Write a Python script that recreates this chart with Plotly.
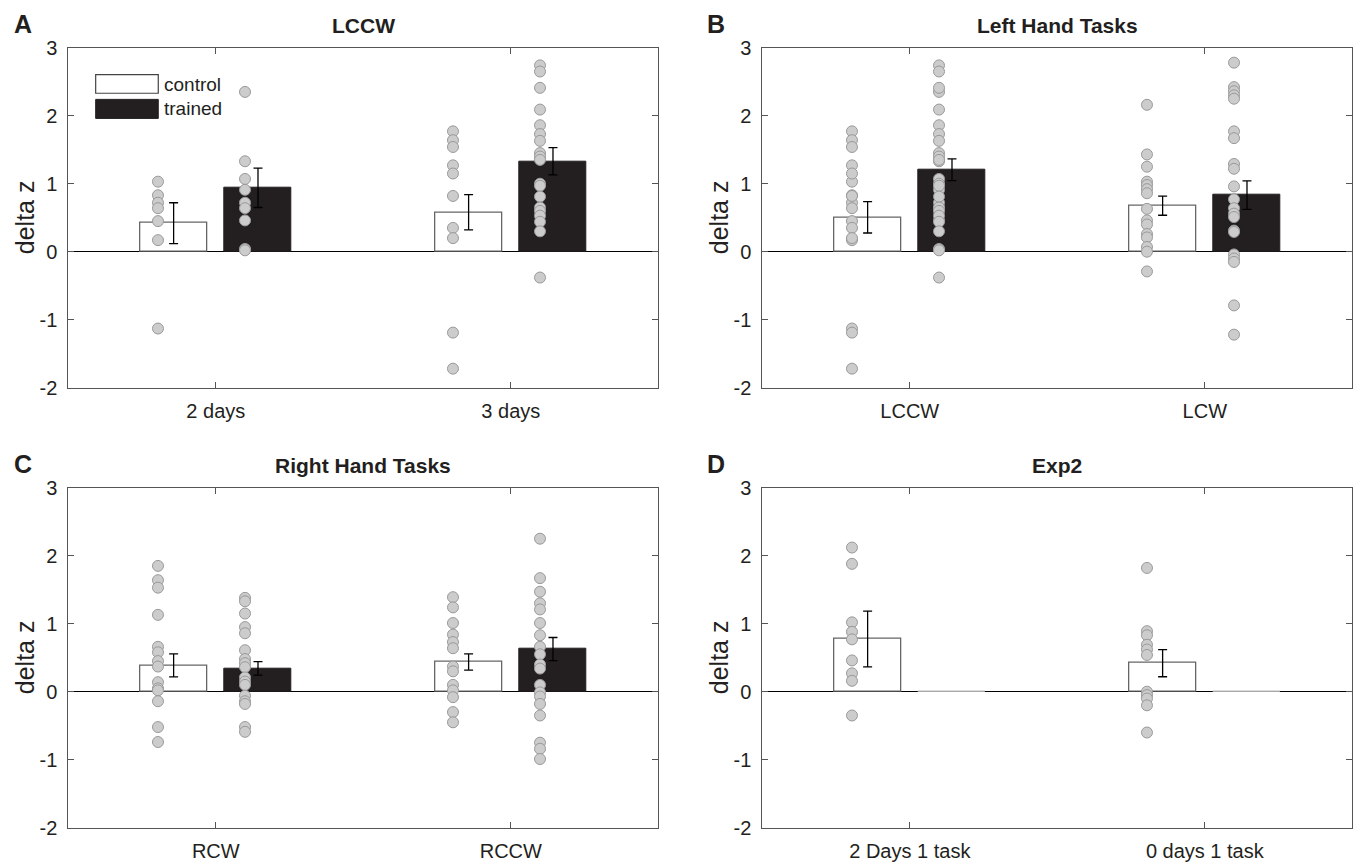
import plotly.graph_objects as go

# ---------------- data ----------------
A_cats = ["2 days", "3 days"]
A_ctrl_mean = [0.42, 0.58]
A_ctrl_sem = [0.30, 0.26]
A_trn_mean = [0.94, 1.33]
A_trn_sem = [0.29, 0.20]
A_ctrl_2d = [1.03, 0.83, 0.72, 0.64, 0.45, 0.17, -1.13]
A_trn_2d = [2.35, 1.33, 1.07, 0.91, 0.72, 0.64, 0.46, 0.04, 0.02]
A_ctrl_3d = [1.77, 1.64, 1.54, 1.27, 1.15, 0.82, 0.35, 0.20, -1.19, -1.72]
A_trn_3d = [2.74, 2.65, 2.41, 2.09, 1.86, 1.73, 1.63, 1.45, 1.40, 1.35,
            1.00, 0.97, 0.81, 0.65, 0.60, 0.53, 0.44, 0.30, -0.38]

B_cats = ["LCCW", "LCW"]
B_ctrl_mean = [0.505, 0.676]
B_ctrl_sem = [0.23, 0.14]
B_trn_mean = [1.206, 0.833]
B_trn_sem = [0.16, 0.21]
B_ctrl_lccw = A_ctrl_2d + A_ctrl_3d
B_trn_lccw = A_trn_2d + A_trn_3d
B_ctrl_lcw = [2.16, 1.43, 1.25, 1.03, 0.98, 0.92, 0.86, 0.63, 0.46, 0.40,
              0.26, 0.21, 0.07, 0.0, -0.29]
B_trn_lcw = [2.78, 2.42, 2.36, 2.30, 2.25, 1.77, 1.67, 1.29, 1.22, 0.96,
             0.77, 0.64, 0.56, 0.51, 0.31, 0.29, -0.04, -0.10, -0.15, -0.79, -1.22]

C_cats = ["RCW", "RCCW"]
C_ctrl_mean = [0.387, 0.436]
C_ctrl_sem = [0.17, 0.12]
C_trn_mean = [0.343, 0.627]
C_trn_sem = [0.10, 0.17]
C_ctrl_rcw = [1.85, 1.64, 1.53, 1.13, 0.66, 0.58, 0.45, 0.37, 0.14, 0.05,
              0.02, -0.14, -0.52, -0.74]
C_trn_rcw = [1.38, 1.33, 1.15, 0.95, 0.86, 0.61, 0.48, 0.42, 0.36, 0.21,
             0.15, 0.10, -0.06, -0.14, -0.18, -0.52, -0.59]
C_ctrl_rccw = [1.39, 1.24, 1.01, 0.84, 0.73, 0.64, 0.37, 0.30, 0.10, 0.02,
               -0.08, -0.30, -0.45]
C_trn_rccw = [2.25, 1.67, 1.47, 1.30, 1.21, 1.01, 0.83, 0.66, 0.55, 0.40,
              0.34, 0.10, -0.01, -0.07, -0.18, -0.35, -0.75, -0.84, -0.99]

D_cats = ["2 Days 1 task", "0 days 1 task"]
D_ctrl_mean = [0.775, 0.42]
D_ctrl_sem = [0.41, 0.20]
D_trn_mean = [0.0, 0.0]
D_ctrl_2d1t = [2.12, 1.88, 1.02, 0.88, 0.77, 0.46, 0.27, 0.16, -0.35]
D_ctrl_0d1t = [1.82, 0.89, 0.83, 0.69, 0.62, 0.54, 0.0, -0.05, -0.10, -0.20, -0.60]

Y_TICKS = [-2, -1, 0, 1, 2, 3]
Y_TICKTEXT = ["-2", "-1", "0", "1", "2", "3"]

panels = [
    dict(letter="A", title="LCCW", cats=A_cats,
         cm=A_ctrl_mean, cs=A_ctrl_sem, tm=A_trn_mean, ts=A_trn_sem,
         cp=[A_ctrl_2d, A_ctrl_3d], tp=[A_trn_2d, A_trn_3d], legend=True),
    dict(letter="B", title="Left Hand Tasks", cats=B_cats,
         cm=B_ctrl_mean, cs=B_ctrl_sem, tm=B_trn_mean, ts=B_trn_sem,
         cp=[B_ctrl_lccw, B_ctrl_lcw], tp=[B_trn_lccw, B_trn_lcw], legend=False),
    dict(letter="C", title="Right Hand Tasks", cats=C_cats,
         cm=C_ctrl_mean, cs=C_ctrl_sem, tm=C_trn_mean, ts=C_trn_sem,
         cp=[C_ctrl_rcw, C_ctrl_rccw], tp=[C_trn_rcw, C_trn_rccw], legend=False),
    dict(letter="D", title="Exp2", cats=D_cats,
         cm=D_ctrl_mean, cs=D_ctrl_sem, tm=D_trn_mean, ts=None,
         cp=[D_ctrl_2d1t, D_ctrl_0d1t], tp=[[], []], legend=False),
]

# ---------------- layout geometry ----------------
W, H = 1359, 862
xdoms = [[68.3 / W, 658.3 / W], [762.3 / W, 1352.3 / W]]
ydoms = [[1 - 387.7 / H, 1 - 47.7 / H], [1 - 827.7 / H, 1 - 487.7 / H]]

BAR_OFF = 0.143
BAR_W = 0.229
CTRL_DOT_OFF = -0.196
TRN_DOT_OFF = 0.099

FONT = "Liberation Sans, Arial, Helvetica, sans-serif"
TXT = "#231f20"
AXC = "#555555"
DOT_FILL = "#cccccc"
DOT_EDGE = "#9a9a9a"

fig = go.Figure()
annotations = []
shapes = []

for i, p in enumerate(panels):
    r, c = divmod(i, 2)
    xa = "x" if i == 0 else f"x{i+1}"
    ya = "y" if i == 0 else f"y{i+1}"
    pos = [1, 2]

    # control bars
    fig.add_trace(go.Bar(
        x=[v - BAR_OFF for v in pos], y=p["cm"], width=BAR_W,
        marker=dict(color="white", line=dict(color="#666666", width=1.3)),
        error_y=dict(type="data", array=p["cs"], visible=True,
                     color="black", thickness=1.3, width=4.5),
        xaxis=xa, yaxis=ya, showlegend=False))
    # trained bars
    err = dict(type="data", array=p["ts"], visible=True, color="black",
               thickness=1.3, width=4.5) if p["ts"] is not None else None
    fig.add_trace(go.Bar(
        x=[v + BAR_OFF for v in pos], y=p["tm"], width=BAR_W,
        marker=dict(color="#231f20",
                    line=dict(color="#231f20" if p["ts"] is not None else "#bbbbbb", width=1)),
        error_y=err,
        xaxis=xa, yaxis=ya, showlegend=False))

    # individual points
    for k, v in enumerate(pos):
        for pts, off in ((p["cp"][k], CTRL_DOT_OFF), (p["tp"][k], TRN_DOT_OFF)):
            if not pts:
                continue
            fig.add_trace(go.Scatter(
                x=[v + off] * len(pts), y=pts, mode="markers",
                marker=dict(size=11, color=DOT_FILL,
                            line=dict(color=DOT_EDGE, width=1)),
                xaxis=xa, yaxis=ya, showlegend=False, hoverinfo="y"))

    axx = dict(domain=xdoms[c], anchor=ya, range=[0.5, 2.5],
               tickvals=pos, ticktext=p["cats"], ticks="inside", ticklen=6,
               tickcolor=AXC, tickwidth=1, showline=True, linecolor=AXC,
               linewidth=1, mirror="ticks", showgrid=False, zeroline=False,
               tickfont=dict(family=FONT, size=20, color=TXT),
               ticklabelstandoff=5, automargin=False, fixedrange=True)
    axy = dict(domain=ydoms[r], anchor=xa, range=[-2, 3],
               tickvals=Y_TICKS, ticktext=Y_TICKTEXT, ticks="inside", ticklen=6,
               tickcolor=AXC, tickwidth=1, showline=True, linecolor=AXC,
               linewidth=1, mirror="ticks", showgrid=False,
               zeroline=True, zerolinecolor="black", zerolinewidth=1,
               tickfont=dict(family=FONT, size=20, color=TXT),
               ticklabelstandoff=6,
               automargin=False, fixedrange=True)
    fig.layout["xaxis" if i == 0 else f"xaxis{i+1}"] = axx
    fig.layout["yaxis" if i == 0 else f"yaxis{i+1}"] = axy

    xref_dom = ("x" if i == 0 else f"x{i+1}") + " domain"
    yref_dom = ("y" if i == 0 else f"y{i+1}") + " domain"

    # y axis title
    annotations.append(dict(text="delta z", xref="paper", yref=yref_dom,
                            x=(24.5 if c == 0 else 718.5) / W, y=0.5,
                            xanchor="center", yanchor="middle", textangle=-90,
                            showarrow=False, font=dict(family=FONT, size=25, color=TXT)))
    # panel title
    annotations.append(dict(text=f"<b>{p['title']}</b>", xref=xref_dom, yref=yref_dom,
                            x=0.5, y=1, xanchor="center", yanchor="middle", yshift=22,
                            showarrow=False, font=dict(family=FONT, size=21, color=TXT)))
    # panel letter
    annotations.append(dict(text=f"<b>{p['letter']}</b>", xref="paper", yref=yref_dom,
                            x=(23 if c == 0 else 716) / W, y=1, xanchor="center",
                            yanchor="middle", yshift=24, showarrow=False,
                            font=dict(family=FONT, size=25, color=TXT)))

    if p["legend"]:
        shapes.append(dict(type="rect", xref=xref_dom, yref=yref_dom,
                           x0=0.0464, x1=0.1525, y0=0.866, y1=0.9206,
                           fillcolor="white", line=dict(color="#444444", width=1.2)))
        shapes.append(dict(type="rect", xref=xref_dom, yref=yref_dom,
                           x0=0.0464, x1=0.1525, y0=0.792, y1=0.848,
                           fillcolor="#231f20", line=dict(color="#231f20", width=1)))
        annotations.append(dict(text="control", xref=xref_dom, yref=yref_dom,
                                x=0.158, y=0.893, xanchor="left", yanchor="middle",
                                showarrow=False, font=dict(family=FONT, size=19, color=TXT)))
        annotations.append(dict(text="trained", xref=xref_dom, yref=yref_dom,
                                x=0.158, y=0.82, xanchor="left", yanchor="middle",
                                showarrow=False, font=dict(family=FONT, size=19, color=TXT)))

fig.update_layout(
    width=W, height=H, autosize=False,
    margin=dict(l=0, r=0, t=0, b=0, pad=0),
    paper_bgcolor="white", plot_bgcolor="white",
    barmode="overlay", bargap=0,
    annotations=annotations, shapes=shapes,
    font=dict(family=FONT, color=TXT),
    showlegend=False,
)

fig.write_html("out.html", config={"displayModeBar": False},
               post_script="document.body.style.margin='0';document.body.style.overflow='hidden';")
